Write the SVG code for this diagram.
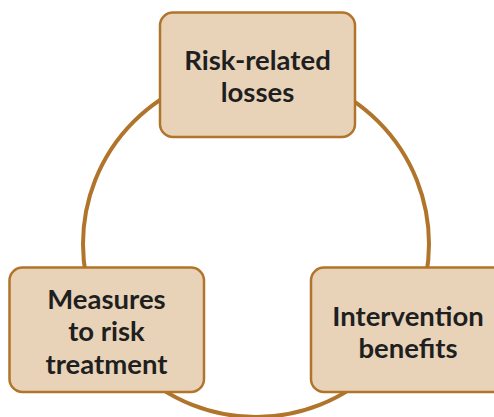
<svg xmlns="http://www.w3.org/2000/svg" width="494" height="417" viewBox="0 0 494 417">
<style>
.node rect{fill:#E8D3B9;stroke:#B0742A;stroke-width:2.5}
.node text{font-family:Lato,"Liberation Sans",sans-serif;font-weight:bold;font-size:27.5px;fill:#1f1f1f;text-anchor:middle}
.conn{fill:none;stroke:#B0742A;stroke-width:4}
</style>
<rect width="494" height="417" fill="#ffffff"/>
<g id="connectors">
<circle class="conn" cx="256" cy="244" r="173"/>
</g>
<g id="node-losses" class="node">
<rect x="160" y="12.5" width="195" height="124.5" rx="13"/>
<text x="257.5" y="69.5">Risk-related</text>
<text x="257.5" y="102">losses</text>
</g>
<g id="node-measures" class="node">
<rect x="9.5" y="267.5" width="194.5" height="124.5" rx="13"/>
<text x="106.5" y="308.5">Measures</text>
<text x="106.5" y="341">to risk</text>
<text x="106.5" y="373.5">treatment</text>
</g>
<g id="node-benefits" class="node">
<rect x="311" y="267.5" width="195" height="124.5" rx="13"/>
<text x="408" y="325.5">Intervention</text>
<text x="408" y="357.5">benefits</text>
</g>
</svg>
